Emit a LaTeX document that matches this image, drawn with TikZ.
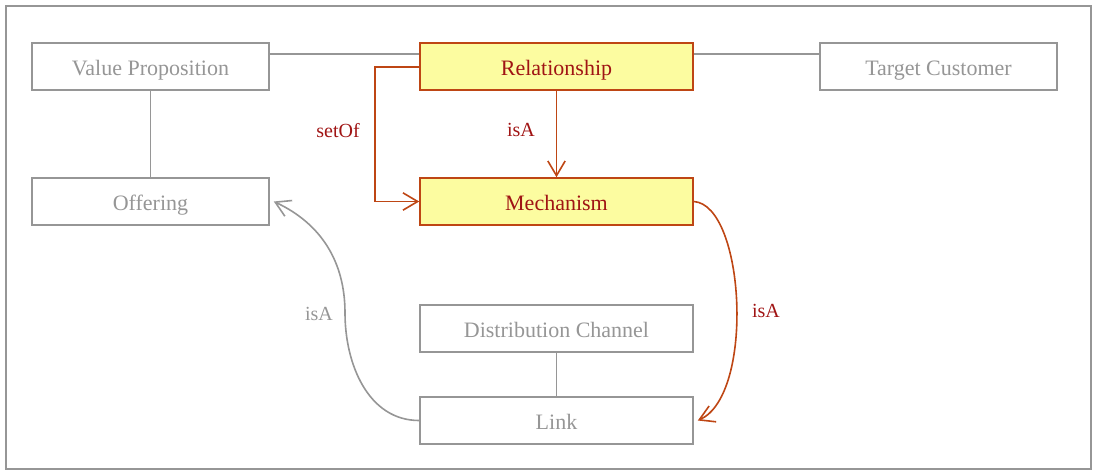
\documentclass[tikz,border=0pt]{standalone}
\usepackage{fontspec}
\setmainfont{Liberation Serif}
\usetikzlibrary{arrows.meta}
\definecolor{gtext}{RGB}{150,150,150}
\definecolor{gline}{RGB}{150,150,150}
\definecolor{rline}{RGB}{190,70,20}
\definecolor{rtext}{RGB}{160,20,20}
\definecolor{yfill}{RGB}{252,252,160}
\tikzset{
  gbox/.style={draw=gline, line width=1.2pt, fill=white, text=gtext, minimum width=177.75pt, minimum height=35.25pt, inner sep=0pt, text height=13.5pt, text depth=0pt, font=\fontsize{16.5}{18}\selectfont},
  gbox2/.style={gbox, minimum width=204.75pt},
  rbox/.style={draw=rline, line width=1.2pt, fill=yfill, text=rtext, minimum width=204.75pt, minimum height=35.25pt, inner sep=0pt, text height=13.5pt, text depth=0pt, font=\fontsize{16.5}{18}\selectfont},
  gedge/.style={draw=gline, line width=1.2pt},
  redge/.style={draw=rline, line width=1.2pt},
  barb/.style={-{Straight Barb[length=11pt,width=13pt,line width=1.2pt]}},
  rlab/.style={text=rtext, font=\fontsize{15}{17}\selectfont, inner sep=0pt},
  glab/.style={text=gtext, font=\fontsize{15}{17}\selectfont, inner sep=0pt},
}
\begin{document}
\begin{tikzpicture}[x=0.75pt, y=-0.75pt]
\useasboundingbox (0,0) rectangle (1095,472);
\draw[gline, line width=1.2pt] (6,6) rectangle (1091,469);
% nodes
\node[gbox] (vp) at (150.5,66.5) {Value Proposition};
\node[rbox] (rel) at (556.5,66.5) {Relationship};
\node[gbox] (tc) at (938.5,66.5) {Target Customer};
\node[gbox] (off) at (150.5,201.5) {Offering};
\node[rbox] (mech) at (556.5,201.5) {Mechanism};
\node[gbox2] (dc) at (556.5,328.5) {Distribution Channel};
\node[gbox2] (link) at (556.5,420.5) {Link};
\coordinate (mid) at (345,313);
% plain connectors
\draw[gedge] (vp.east |- 0,54) -- (rel.west |- 0,54);
\draw[gedge] (rel.east |- 0,54) -- (tc.west |- 0,54);
\draw[gedge] (vp.south) -- (off.north);
\draw[gedge] (dc.south) -- (link.north);
% red connectors
\draw[redge, barb] (rel.south) -- (mech.north);
\node[rlab] (l1) at (521,130) {isA};
\draw[redge, barb] (rel.west |- 0,67) -| (375,135) |- (mech.west);
\node[rlab] (l2) at (338,131) {setOf};
\draw[redge, barb] (mech.east) .. controls (745,205) and (755,395) .. ([xshift=3pt]link.east);
\node[rlab] (l3) at (766,311) {isA};
% gray curved
\draw[gedge, barb] (link.west) to[out=180, in=-90] (mid) to[out=90, in=-25] ([xshift=3pt]off.east);
\node[glab] (l4) at (319,314) {isA};
\end{tikzpicture}
\end{document}
